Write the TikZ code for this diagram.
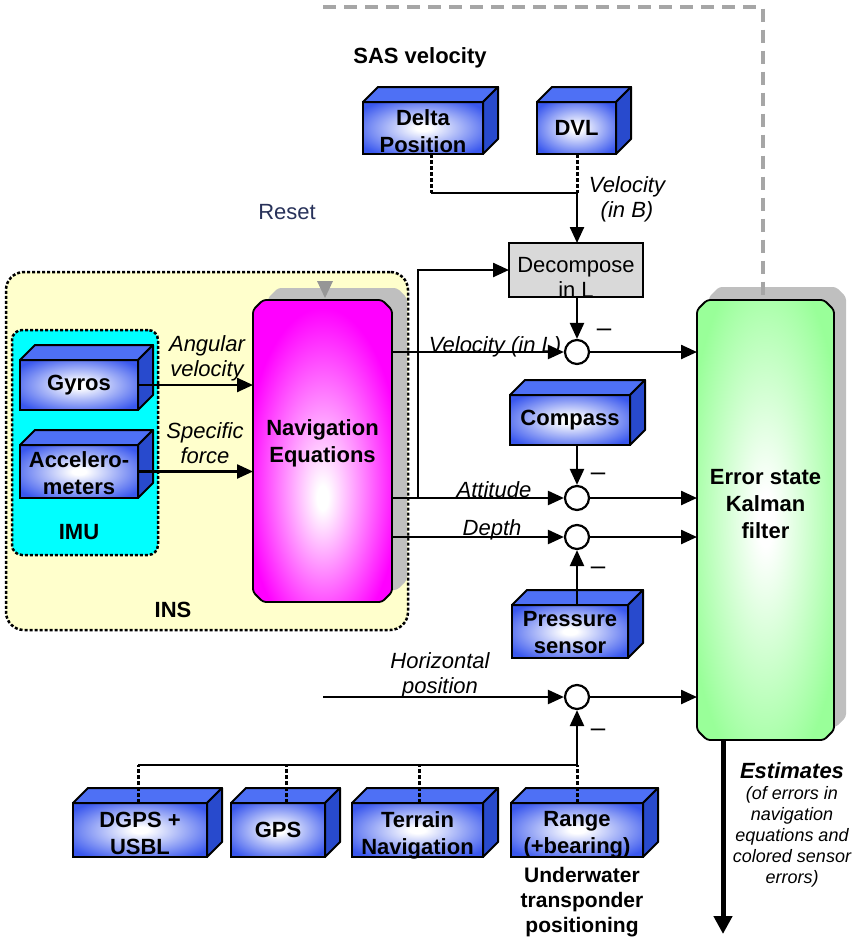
\documentclass[tikz,border=0pt]{standalone}
\usepackage{fontspec}
\setmainfont{Liberation Sans}
\usetikzlibrary{arrows.meta}

\definecolor{boxblue}{RGB}{58,88,238}
\definecolor{topblue}{RGB}{78,112,245}
\definecolor{sideblue}{RGB}{40,74,205}
\definecolor{insyellow}{RGB}{255,255,204}
\definecolor{imucyan}{RGB}{0,255,255}
\definecolor{kfgreen}{RGB}{153,255,153}
\definecolor{shadowgray}{RGB}{191,191,191}
\definecolor{decgray}{RGB}{217,217,217}
\definecolor{resetgray}{RGB}{166,166,166}
\definecolor{trigray}{RGB}{150,150,150}
\definecolor{resetblue}{RGB}{40,50,90}

\pgfdeclareradialshading{bluegrad}{\pgfpoint{0bp}{0bp}}{color(0bp)=(white); color(3bp)=(white); color(31bp)=(boxblue); color(60bp)=(boxblue)}
\pgfdeclareradialshading{maggrad}{\pgfpoint{0bp}{-8bp}}{color(0bp)=(white); color(2bp)=(white); color(28bp)=(magenta); color(60bp)=(magenta)}
\pgfdeclareradialshading{greengrad}{\pgfpoint{0bp}{0bp}}{color(0bp)=(white); color(3bp)=(white); color(30bp)=(kfgreen); color(60bp)=(kfgreen)}

\tikzset{
  conn/.style={line width=2.4pt},
  arr/.style={conn,-{Triangle[length=16pt,width=14pt]}},
  bigarr/.style={line width=5pt,-{Triangle[length=18pt,width=18pt]}},
  dsh/.style={line width=3pt, dash pattern=on 4pt off 2pt},
  frontface/.style={rectangle, draw=black, line width=2pt, shade, shading=bluegrad, inner sep=0pt, outer sep=0pt},
  topfacestyle/.style={fill=topblue, draw=black, line width=2pt, line join=round},
  sidefacestyle/.style={fill=sideblue, draw=black, line width=2pt, line join=round},
  boxtext/.style={font=\fontsize{22}{27}\selectfont\bfseries, align=center, inner sep=0pt},
  lbl/.style={font=\fontsize{22}{25}\selectfont\itshape, align=center, inner sep=0pt},
  plaintext/.style={font=\fontsize{22}{25}\selectfont, align=center, inner sep=0pt},
  sumnode/.style={circle, draw=black, line width=2.2pt, fill=white, minimum size=24pt, inner sep=0pt},
  minus/.style={font=\fontsize{26}{26}\selectfont, inner sep=0pt},
  anchorblock/.style={rectangle, inner sep=0pt, outer sep=0pt},
  resetline/.style={draw=resetgray, line width=4pt, dash pattern=on 13pt off 8pt},
  insbox/.style={draw=black, fill=insyellow, rounded corners=18pt, line width=2.5pt, dash pattern=on 3pt off 2pt, inner sep=0pt},
  imubox/.style={draw=black, fill=imucyan, rounded corners=10pt, line width=2.5pt, dash pattern=on 3pt off 2pt, inner sep=0pt},
  decbox/.style={draw=black, fill=decgray, line width=2.5pt, inner sep=0pt, outer sep=0pt}
}

% chamfered outline of a named node
\newcommand\chpath[1]{([xshift=10pt]#1.north west) -- ([xshift=-10pt]#1.north east) -- ([yshift=-10pt]#1.north east) -- ([yshift=10pt]#1.south east) -- ([xshift=-10pt]#1.south east) -- ([xshift=10pt]#1.south west) -- ([yshift=10pt]#1.south west) -- ([yshift=-10pt]#1.north west) -- cycle}

% name, x, y, width, height, text, text shift
\newcommand\blk[7]{%
  \node[frontface, minimum width=#4pt, minimum height=#5pt] (#1) at (#2,#3) {};
  \filldraw[topfacestyle] (#1.north west) -- ([shift={(15,-15)}]#1.north west) -- ([shift={(15,-15)}]#1.north east) -- (#1.north east) -- cycle;
  \filldraw[sidefacestyle] (#1.north east) -- ([shift={(15,-15)}]#1.north east) -- ([shift={(15,-15)}]#1.south east) -- (#1.south east) -- cycle;
  \node[boxtext, yshift=#7] (#1-t) at (#1.center) {#6};
}

\begin{document}
\begin{tikzpicture}[x=1pt,y=-1pt]
\useasboundingbox (0,0) rectangle (858,937);

% INS and IMU containers
\node[insbox, minimum width=402pt, minimum height=358pt] (ins) at (207,451) {};
\node[imubox, minimum width=146pt, minimum height=225pt] (imu) at (85,442.5) {};
\node[font=\fontsize{22}{25}\selectfont\bfseries, inner sep=0pt, anchor=base] (imu-l) at (79,539) {IMU};
\node[font=\fontsize{22}{25}\selectfont\bfseries, inner sep=0pt, anchor=base] (ins-l) at (173,617) {INS};

% Navigation equations
\node[anchorblock, minimum width=139pt, minimum height=302pt] (navsh) at (337.5,439) {};
\fill[shadowgray, rounded corners=3pt] \chpath{navsh};
\node[anchorblock, minimum width=139pt, minimum height=302pt] (nav) at (322.5,451) {};
\shade[shading=maggrad, draw=black, line width=1.8pt, rounded corners=3pt] \chpath{nav};
\node[boxtext, yshift=8pt] (nav-t) at (nav.center) {Navigation\\Equations};
\fill[trigray] (317,281) -- (333,281) -- (325,298) -- cycle;

% Kalman filter
\node[anchorblock, minimum width=137pt, minimum height=440pt] (kfsh) at (777.5,507) {};
\fill[shadowgray, rounded corners=3pt] \chpath{kfsh};
\node[anchorblock, minimum width=137pt, minimum height=440pt] (kf) at (765.5,520) {};
\coordinate (rs) at (323,7);
\draw[resetline] (rs) -| ([xshift=-3pt]kf.north);
\shade[shading=greengrad, draw=black, line width=1.8pt, rounded corners=3pt] \chpath{kf};
\node[boxtext, yshift=16pt] (kf-t) at (kf.center) {Error state\\Kalman\\filter};

% sensor blocks
\blk{delta}{423}{128}{120}{52}{Delta\\Position}{-3pt}
\blk{dvl}{576.5}{128}{79}{52}{DVL}{0pt}
\blk{gyros}{79}{385}{118}{50}{Gyros}{0pt}
\blk{accel}{79}{471.5}{118}{53}{Accelero-\\meters}{-2pt}
\blk{compass}{570}{420}{120}{50}{Compass}{0pt}
\blk{pres}{570}{631.5}{116}{53}{Pressure\\sensor}{-1pt}
\blk{dgps}{140}{830}{134}{54}{DGPS +\\USBL}{-3.5pt}
\blk{gps}{278}{830}{94}{54}{GPS}{0pt}
\blk{terrain}{417.5}{830}{131}{54}{Terrain\\Navigation}{-5pt}
\blk{range}{577}{830}{132}{54}{Range\\(+bearing)}{-5pt}

% Decompose
\node[decbox, minimum width=134pt, minimum height=54pt] (dec) at (576,270) {};
\node[plaintext, yshift=-7.6pt] (dec-t) at (dec.center) {Decompose\\in L};

% summation nodes
\node[sumnode] (cv) at (577,352) {};
\node[sumnode] (catt) at (577,498) {};
\node[sumnode] (cdep) at (577,537) {};
\node[sumnode] (chp) at (577,697) {};

% SAS velocity connectors
\coordinate (dj) at (431,193);
\coordinate (j1) at (577,193);
\draw[dsh] (delta.south -| dj) -- (dj);
\draw[dsh] (dvl.south -| j1) -- (j1);
\draw[conn] (dj) -- (j1);
\draw[arr] (j1) -- (dec.north -| j1);

% IMU to navigation equations
\draw[arr] (gyros.east) -- (gyros.east -| nav.west);
\draw[arr] (accel.east) -- (accel.east -| nav.west);

% navigation outputs
\draw[arr] (nav.east |- cv) -- (cv);
\draw[arr] (nav.east |- catt) -- (catt);
\draw[arr] (nav.east |- cdep) -- (cdep);
\coordinate (br) at (418,498);
\draw[arr] (br) |- (dec.west);

% measurements into summations
\draw[arr] (dec.south -| cv) -- (cv);
\draw[arr] (catt |- compass.south) -- (catt);
\draw[arr] (cdep |- pres.north) -- (cdep);

% horizontal position
\coordinate (hp) at (323,697);
\draw[arr] (hp) -- (chp);
\coordinate (b1) at (138,765);
\coordinate (b2) at (286,765);
\coordinate (b3) at (419,765);
\coordinate (bj) at (577,765);
\draw[dsh] (dgps.north -| b1) -- (b1);
\draw[dsh] (gps.north -| b2) -- (b2);
\draw[dsh] (terrain.north -| b3) -- (b3);
\draw[dsh] (range.north -| bj) -- (bj);
\draw[conn] (b1) -- (bj);
\draw[arr] (bj) -- (chp);

% into Kalman filter
\draw[arr] (cv) -- (cv -| kf.west);
\draw[arr] (catt) -- (catt -| kf.west);
\draw[arr] (cdep) -- (cdep -| kf.west);
\draw[arr] (chp) -- (chp -| kf.west);

% estimates output
\coordinate (est) at (723,934);
\draw[bigarr] (kf.south -| est) -- (est);

% minus signs
\node[minus, anchor=base] (m1) at (604,336) {–};
\node[minus, anchor=base] (m2) at (598,480) {–};
\node[minus, anchor=base] (m3) at (598,574) {–};
\node[minus, anchor=base] (m4) at (598,736) {–};

% labels
\node[lbl, anchor=base] (vl-lbl) at (495,352) {Velocity (in L)};
\node[lbl, anchor=base] (att-lbl) at (494,497) {Attitude};
\node[lbl, anchor=base] (dep-lbl) at (492,535) {Depth};
\node[lbl] (hp-lbl) at (440,675) {Horizontal\\position};
\node[lbl] (av-lbl) at (207,358) {Angular\\velocity};
\node[lbl] (sf-lbl) at (205,443) {Specific\\force};
\node[lbl] (vb-lbl) at (627,199) {Velocity\\(in B)};
\node[font=\fontsize{22}{25}\selectfont\bfseries, inner sep=0pt, anchor=base] (sas) at (420,63) {SAS velocity};
\node[plaintext, text=resetblue, anchor=base] (reset) at (287,219) {Reset};
\node[font=\fontsize{18}{21}\selectfont\itshape, align=center, inner sep=0pt] (est-t) at (792,825) {{\fontsize{22}{21}\selectfont\bfseries Estimates}\\(of errors in\\navigation\\equations and\\colored sensor\\errors)};
\node[font=\fontsize{21}{25}\selectfont\bfseries, align=center, inner sep=0pt] (uw) at (582,902) {Underwater\\transponder\\positioning};
\end{tikzpicture}
\end{document}
